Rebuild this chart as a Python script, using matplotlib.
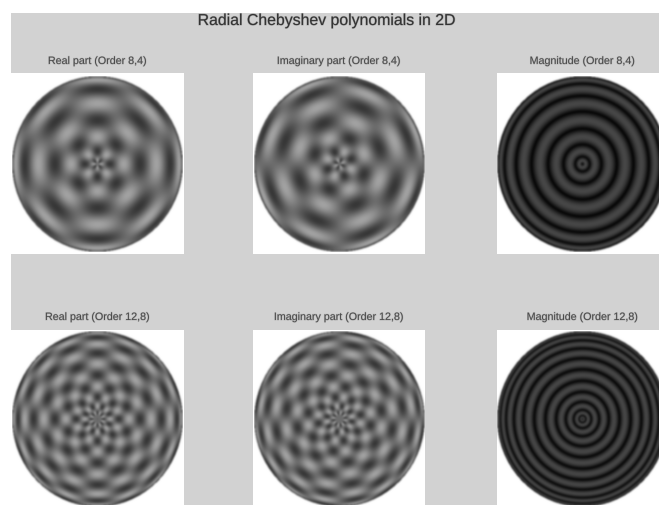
# Radial Chebyshev polynomials in 2D
import matplotlib
matplotlib.use('Agg')
import matplotlib.pyplot as plt
import matplotlib.patheffects as pe
import numpy as np

plt.rcParams['font.family'] = ['Liberation Sans', 'DejaVu Sans']

orders = [(8, 4), (12, 8)]
part_names = ['Real part', 'Imaginary part', 'Magnitude']
title_text = 'Radial Chebyshev polynomials in 2D'

W, H = 659.0, 506.0
col_left = [11, 253, 497]
col_centre = [97.5, 339, 582.5]
row_top = [74, 331]
row_centre = [164.5, 420]
row_title_y = [62, 318]
rx, ry = 85.5, 88.0
gray_back = '#d2d2d2'


def chebyshev_field(n, m, grid=342):
    x = np.linspace(-1, 1, grid)
    xx, yy = np.meshgrid(x, x)
    r = np.hypot(xx, yy)
    t = np.arctan2(yy, xx)
    u = np.clip(2 * r - 1, -1, 1)
    radial = np.cos(n * np.arccos(u))
    return radial * np.exp(1j * m * t), r


def soften(img, sigma=1.7):
    # the reference is a blurry scan, so smooth the grey picture a bit
    k = np.arange(-6, 7)
    g = np.exp(-k ** 2 / (2 * sigma ** 2))
    g = g / g.sum()
    pad = np.pad(img, 6, mode='constant', constant_values=1.0)
    pad = np.apply_along_axis(lambda v: np.convolve(v, g, mode='same'), 0, pad)
    pad = np.apply_along_axis(lambda v: np.convolve(v, g, mode='same'), 1, pad)
    return pad[6:-6, 6:-6]


fig = plt.figure(figsize=(W / 100, H / 100), dpi=100, facecolor='white')
back = fig.add_axes([11 / W, 0, 1 - 11 / W, 1 - 14 / H])
back.set_facecolor(gray_back)
back.set_xticks([])
back.set_yticks([])
for s in back.spines.values():
    s.set_visible(False)

for i, (n, m) in enumerate(orders):
    f, r = chebyshev_field(n, m)
    panels = [(-f.real, -2.0, 2.7), (-f.imag, -2.0, 2.7), (np.abs(f), -0.02, 3.6)]
    for j, (val, lo, hi) in enumerate(panels):
        x0 = col_left[j]
        w = col_centre[j] - x0
        h = row_centre[i] - row_top[i]
        sq = fig.add_axes([(x0 - 0.5) / W, 1 - (row_top[i] + 2 * h) / H, (2 * w + 0.5) / W, 2 * h / H])
        sq.set_facecolor('white')
        sq.set_xticks([])
        sq.set_yticks([])
        for s in sq.spines.values():
            s.set_visible(False)
        ax = fig.add_axes([(col_centre[j] - rx) / W, 1 - (row_centre[i] + ry) / H, 2 * rx / W, 2 * ry / H])
        img = np.clip((val - lo) / (hi - lo), 0, 1)
        # thin dark rim round the disc, as in the reference
        img[(r > 0.985) & (r <= 1)] *= 0.55
        img[r > 1] = 1.0
        ax.imshow(soften(img), cmap='gray', vmin=0, vmax=1, origin='lower',
                  interpolation='antialiased', aspect='auto', extent=[-1, 1, -1, 1])
        ax.axis('off')
        fig.text(col_centre[j] / W, 1 - row_title_y[i] / H,
                 '%s (Order %d,%d)' % (part_names[j], n, m),
                 ha='center', va='center', fontsize=7.7, color='#4a4a4a', zorder=5,
                 path_effects=[pe.withStroke(linewidth=0.8, foreground='#4a4a4a', alpha=0.2)])

fig.text(327 / W, 1 - 21.5 / H, title_text, ha='center', va='center',
         fontsize=11.4, color='#333333', zorder=5,
         path_effects=[pe.withStroke(linewidth=0.8, foreground='#333333', alpha=0.25)])

fig.savefig('out.png', dpi=100, facecolor='white')
